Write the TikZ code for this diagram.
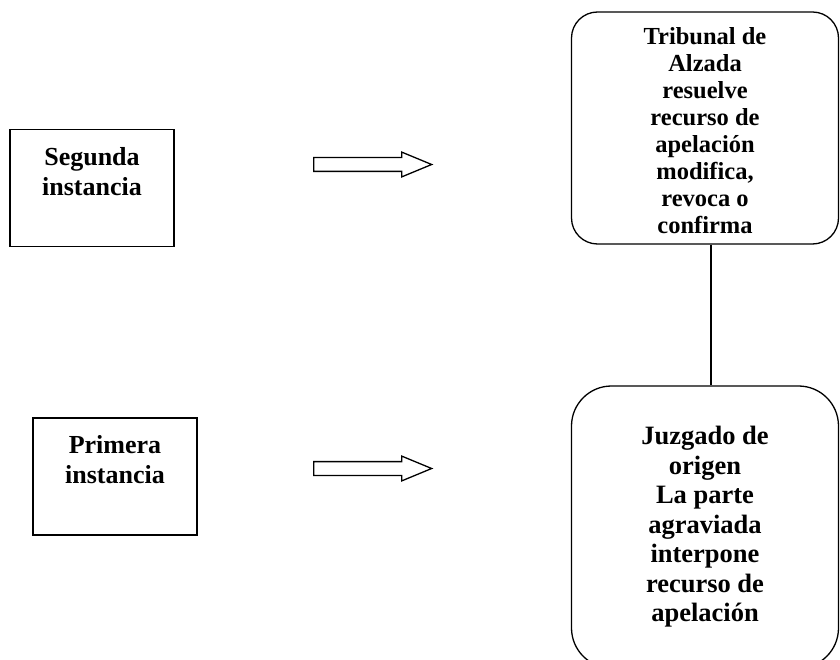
\documentclass[tikz,border=0pt]{standalone}
\usepackage{xcolor}
\usepackage{fontspec}
\setmainfont{Liberation Serif}
\usepackage{tikz}
\usetikzlibrary{shapes.arrows}

\begin{document}
\begin{tikzpicture}[x=1pt,y=1pt,yscale=-1,xscale=1, line width=1.3pt,
  levelbox/.style={draw, rectangle, minimum width=164pt, minimum height=117pt, inner sep=0pt},
  stagebox/.style={draw, rectangle, rounded corners=#1, inner sep=0pt, minimum width=267pt},
  boxtext/.style 2 args={align=center, inner sep=0pt, font=\fontsize{#1}{#2}\selectfont\bfseries},
  hollowarrow/.style={draw, single arrow, single arrow head extend=5.5pt, single arrow tip angle=45,
    inner xsep=0pt, inner ysep=6.25pt, minimum height=118pt, anchor=west}]
\useasboundingbox (0,0) rectangle (840,660);
\clip (0,0) rectangle (840,660);

%Shape: Rectangle [segunda]
\node [levelbox] (segunda) at (92,188) {};
%Shape: Rectangle [primera]
\node [levelbox] (primera) at (115,476.5) {};

% Text Node
\node [boxtext={26}{30pt}] (segundatxt) at (92,172) {Segunda\\instancia};
% Text Node
\node [boxtext={26}{30pt}] (primeratxt) at (115,460) {Primera\\instancia};

%Shape: Right Arrow
\node [hollowarrow] (flecha1) at (313,164.5) {};
%Shape: Right Arrow
\node [hollowarrow] (flecha2) at (313,468.5) {};

%Shape: Rounded Rect [tribunal]
\node [stagebox=26pt, minimum height=232pt] (tribunal) at (705,128) {};
%Shape: Rounded Rect [juzgado]
\node [stagebox=40pt, minimum height=282pt] (juzgado) at (705,527) {};

% Text Node
\node [boxtext={24.5}{27pt}] (tribunaltxt) at (705,131) {Tribunal de\\Alzada\\resuelve\\recurso de\\apelación\\modifica,\\revoca o\\confirma};
% Text Node
\node [boxtext={26.5}{29.5pt}] (juzgadotxt) at (705,527) {Juzgado de\\origen\\La parte\\agraviada\\interpone\\recurso de\\apelación};

%Straight Lines
\draw ([xshift=6pt]tribunal.south) -- ([xshift=6pt]juzgado.north);

\end{tikzpicture}
\end{document}
